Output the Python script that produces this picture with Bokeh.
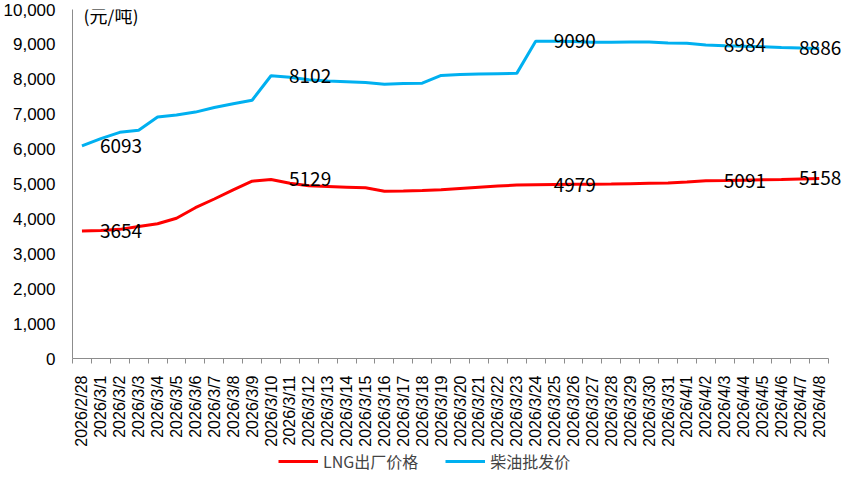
import math
from bokeh.plotting import figure
from bokeh.layouts import column
from bokeh.models import (FixedTicker, NumeralTickFormatter,
                          Legend, LegendItem, Label, Range1d)
from bokeh.embed import file_html
from bokeh.resources import INLINE

dates = ["2026/2/28"] + [f"2026/3/{d}" for d in range(1, 32)] + [f"2026/4/{d}" for d in range(1, 9)]

lng = [3654, 3670, 3700, 3780, 3860, 4020, 4320, 4570, 4830, 5080,
       5129, 5020, 4950, 4930, 4910, 4890, 4790, 4800, 4815, 4835,
       4870, 4905, 4940, 4970, 4979, 4985, 4990, 4995, 5000, 5010,
       5020, 5030, 5055, 5091, 5100, 5110, 5120, 5130, 5145, 5158]

diesel = [6093, 6300, 6480, 6540, 6920, 6980, 7060, 7190, 7300, 7400,
          8102, 8060, 7990, 7950, 7930, 7910, 7860, 7880, 7890, 8110,
          8140, 8150, 8160, 8170, 9090, 9090, 9080, 9060, 9060, 9070,
          9070, 9040, 9030, 8984, 8960, 8950, 8930, 8910, 8895, 8886]

label_idx = [0, 10, 24, 33, 39]
y_ticks = [0, 1000, 2000, 3000, 4000, 5000, 6000, 7000, 8000, 9000, 10000]

RED = "#FF0000"
BLUE = "#00B0F0"
AXIS = "#8C8C8C"
CJK = "Noto Sans CJK SC"

n = len(dates)
xs = list(range(n))

p = figure(width=842, height=449, output_backend="svg", toolbar_location=None,
           x_range=Range1d(-0.5, n - 0.5 + 0.73), y_range=Range1d(0, 10000),
           min_border_left=64, min_border_right=0, min_border_top=9,
           min_border_bottom=80)
p.outline_line_color = None
p.xgrid.visible = False
p.ygrid.visible = False
p.background_fill_color = "white"

r_lng = p.line(xs, lng, line_color=RED, line_width=3)
r_dsl = p.line(xs, diesel, line_color=BLUE, line_width=3)

# data labels
for series in (diesel, lng):
    for i in label_idx:
        last = (i == label_idx[-1])
        p.add_layout(Label(x=i, y=series[i], text=str(series[i]),
                           x_offset=22 if last else 18,
                           text_align="right" if last else "left",
                           text_baseline="middle", text_font=CJK,
                           text_font_size="19px", text_color="#000000"))

# x axis
xa = p.xaxis[0]
xa.bounds = (-0.5, n - 0.5)
xa.ticker = FixedTicker(ticks=xs, minor_ticks=[i - 0.5 for i in range(n + 1)])
xa.major_label_overrides = {i: d for i, d in enumerate(dates)}
xa.major_label_orientation = math.pi / 2
xa.major_tick_line_color = None
xa.major_tick_out = 0
xa.major_tick_in = 0
xa.minor_tick_line_color = AXIS
xa.minor_tick_in = 0
xa.minor_tick_out = 5
xa.axis_line_color = AXIS
xa.axis_label_standoff = 0
xa.major_label_text_font = "Liberation Sans"
xa.major_label_text_font_size = "16px"
xa.major_label_text_color = "#000000"
xa.major_label_standoff = 12

# y axis
ya = p.yaxis[0]
ya.ticker = FixedTicker(ticks=y_ticks)
ya.formatter = NumeralTickFormatter(format="0,0")
ya.major_tick_line_color = None
ya.minor_tick_line_color = None
ya.axis_line_color = AXIS
ya.major_label_text_font = "Liberation Sans"
ya.major_label_text_font_size = "17px"
ya.major_label_text_color = "#000000"
ya.major_label_standoff = 11

p.add_layout(Label(x=0.08, y=9830, text="(元/吨)", text_font=CJK,
                   text_font_size="18px", text_baseline="middle", text_align="left",
                   text_color="#000000"))

# legend strip below the chart (its frame is aligned with the chart's frame)
lf = figure(width=842, height=24, output_backend="svg", toolbar_location=None,
            x_range=Range1d(0, 1), y_range=Range1d(0, 1),
            min_border_left=0, min_border_right=0, min_border_top=0,
            min_border_bottom=0)
lf.axis.visible = False
lf.grid.visible = False
lf.outline_line_color = None
l1 = lf.line([5, 6], [5, 6], line_color=RED, line_width=3)
l2 = lf.line([5, 6], [5, 6], line_color=BLUE, line_width=3)
legend = Legend(items=[LegendItem(label="LNG出厂价格", renderers=[l1]),
                       LegendItem(label="柴油批发价", renderers=[l2])],
                orientation="horizontal", location=(206, 0),
                label_text_font=CJK, label_text_font_size="16px",
                glyph_width=40, glyph_height=16, spacing=27,
                border_line_color=None, background_fill_alpha=0,
                padding=0, margin=0, label_standoff=5, label_height=16)
lf.add_layout(legend, "center")

open("out.html", "w").write(file_html(column(p, lf), INLINE))
